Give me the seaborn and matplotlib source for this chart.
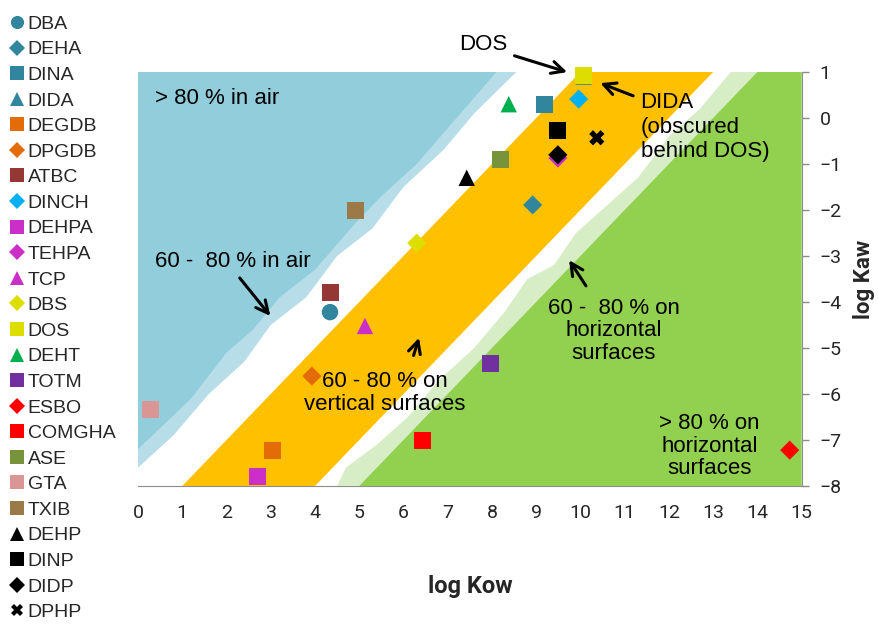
import matplotlib
matplotlib.use("Agg")
import matplotlib.pyplot as plt
import seaborn as sns
import pandas as pd

# compound data (log Kow, log Kaw)
names = ["DBA", "DEHA", "DINA", "DIDA", "DEGDB", "DPGDB", "ATBC", "DINCH",
         "DEHPA", "TEHPA", "TCP", "DBS", "DOS", "DEHT", "TOTM", "ESBO",
         "COMGHA", "ASE", "GTA", "TXIB", "DEHP", "DINP", "DIDP", "DPHP"]
log_kow = [4.34, 8.92, 9.19, 10.07, 3.03, 3.93, 4.34, 9.96,
           2.71, 9.49, 5.13, 6.30, 10.07, 8.38, 7.97, 14.73,
           6.42, 8.20, 0.29, 4.92, 7.43, 9.49, 9.49, 10.37]
log_kaw = [-4.22, -1.89, 0.30, 0.90, -7.22, -5.61, -3.80, 0.41,
           -7.80, -0.87, -4.52, -2.72, 0.93, 0.30, -5.33, -7.22,
           -7.02, -0.91, -6.33, -2.02, -1.30, -0.28, -0.80, -0.43]
colors = ["#31859C", "#31859C", "#31859C", "#31859C", "#E36C09", "#E36C09",
          "#953735", "#00B0F0", "#CC2FC7", "#CC2FC7", "#CC2FC7", "#DDDD00",
          "#DDDD00", "#00B050", "#7030A0", "#FF0000", "#FF0000", "#77933C",
          "#D99694", "#9C7A47", "#000000", "#000000", "#000000", "#000000"]
markers = ["o", "D", "s", "^", "s", "D", "s", "D", "s", "D", "^", "D",
           "s", "^", "s", "D", "s", "s", "s", "s", "^", "s", "D", "X"]
marker_size = {"o": 140, "D": 95, "s": 150, "^": 140, "X": 120}

df = pd.DataFrame({"name": names, "log Kow": log_kow, "log Kaw": log_kaw})

# region boundaries (wavy edges)
dark_blue_edge = [(0, -7.2), (1.2, -6.1), (2.0, -5.1), (2.6, -4.6), (3.2, -3.9),
                  (4.0, -3.3), (4.9, -2.3), (5.5, -1.7), (6.3, -1.0), (7.2, 0.0), (8.1, 1.0)]
light_blue_edge = [(0, -7.6), (0.8, -6.9), (1.6, -6.0), (2.4, -5.3), (3.0, -4.5),
                   (3.8, -3.9), (4.5, -3.0), (5.3, -2.4), (6.0, -1.5), (6.9, -0.7),
                   (7.6, 0.1), (8.55, 1.0)]
orange_band = [(1, -8), (4, -8), (13, 1), (10, 1)]
light_green_edge = [(4.5, -8), (4.7, -7.6), (5.4, -7.1), (6.1, -6.5), (6.8, -5.7),
                    (7.6, -5.0), (8.3, -4.2), (8.8, -3.5), (9.4, -3.2), (9.9, -2.5),
                    (10.6, -1.9), (11.3, -1.3), (12.0, -0.4), (12.7, 0.2), (13.4, 1.0)]
dark_green = [(5, -8), (14, 1), (15, 1), (15, -8)]

sns.set_style("white")
plt.rcParams["font.family"] = ["Liberation Sans", "DejaVu Sans"]

fig = plt.figure(figsize=(8.79, 6.26), dpi=100)
ax = fig.add_axes([0.157, 0.2236, 0.755, 0.6614])


def fill(pts, color):
    xs, ys = zip(*pts)
    ax.fill(xs, ys, color=color, lw=0, zorder=1)


fill(light_blue_edge + [(0, 1)], "#B7DEE8")
fill(dark_blue_edge + [(0, 1)], "#92CDDC")
fill(orange_band, "#FFC000")
fill(light_green_edge + [(15, 1), (15, -8)], "#D7EDC6")
fill(dark_green, "#92D050")

sns.scatterplot(data=df, x="log Kow", y="log Kaw", hue="name", style="name", size="name",
                palette=dict(zip(names, colors)), markers=dict(zip(names, markers)),
                sizes={n: marker_size[m] for n, m in zip(names, markers)},
                linewidth=0, ax=ax, zorder=3, clip_on=False, legend="full")

handles, labels = ax.get_legend_handles_labels()
ax.get_legend().remove()
keep = [(h, l) for h, l in zip(handles, labels) if l in names]
fig.legend([h for h, _ in keep], [l for _, l in keep], loc="upper left",
           bbox_to_anchor=(0.004, 0.982), frameon=False, fontsize=14,
           labelspacing=0.41, handletextpad=0.05, handlelength=1.0,
           borderaxespad=0, borderpad=0.2, markerscale=0.8)

ax.set_xlim(0, 15)
ax.set_ylim(-8, 1)
ax.set_xticks(range(0, 16))
ax.set_yticks(range(-8, 2))
ax.yaxis.tick_right()
ax.yaxis.set_label_position("right")
for side in ["top", "left"]:
    ax.spines[side].set_visible(False)
for side in ["bottom", "right"]:
    ax.spines[side].set_color("#8c8c8c")
    ax.spines[side].set_zorder(0.5)
ax.tick_params(axis="both", direction="out", length=5, width=1, color="#8c8c8c",
               labelsize=14, pad=8)
for lab in ax.get_xticklabels() + ax.get_yticklabels():
    lab.set_family("Roboto")
ax.set_xlabel("log Kow", fontsize=17, fontweight="bold", family="Roboto", labelpad=38)
ax.set_ylabel("log Kaw", fontsize=16, fontweight="bold", family="Roboto", labelpad=8)

txt = dict(fontsize=16, color="black", zorder=4)
arr = dict(arrowstyle="->", lw=2.2, color="black", mutation_scale=22)
ax.text(0.38, 0.43, "> 80 % in air", ha="left", va="center", **txt)
ax.text(0.38, -3.13, "60 -  80 % in air", ha="left", va="center", **txt)
ax.annotate("", xy=(3.03, -4.35), xytext=(2.26, -3.43), arrowprops=arr, zorder=4)
ax.text(5.58, -5.98, "60 - 80 % on\nvertical surfaces", ha="center", va="center",
        linespacing=1.1, **txt)
ax.annotate("", xy=(6.37, -4.72), xytext=(6.21, -5.22), arrowprops=arr, zorder=4)
ax.text(10.75, -4.63, "60 -  80 % on\nhorizontal\nsurfaces", ha="center", va="center",
        linespacing=1.1, **txt)
ax.annotate("", xy=(9.71, -3.04), xytext=(10.16, -3.70), arrowprops=arr, zorder=4)
ax.text(12.92, -7.13, "> 80 % on\nhorizontal\nsurfaces", ha="center", va="center",
        linespacing=1.1, **txt)
ax.text(7.8, 1.59, "DOS", ha="center", va="center", **txt)
ax.annotate("", xy=(9.76, 0.98), xytext=(8.45, 1.37), arrowprops=arr,
            annotation_clip=False, zorder=4)
ax.text(11.36, -0.20, "DIDA\n(obscured\nbehind DOS)", ha="left", va="center",
        linespacing=1.2, **txt)
ax.annotate("", xy=(10.39, 0.78), xytext=(11.25, 0.46), arrowprops=arr, zorder=4)

fig.savefig("out.png", dpi=100)
